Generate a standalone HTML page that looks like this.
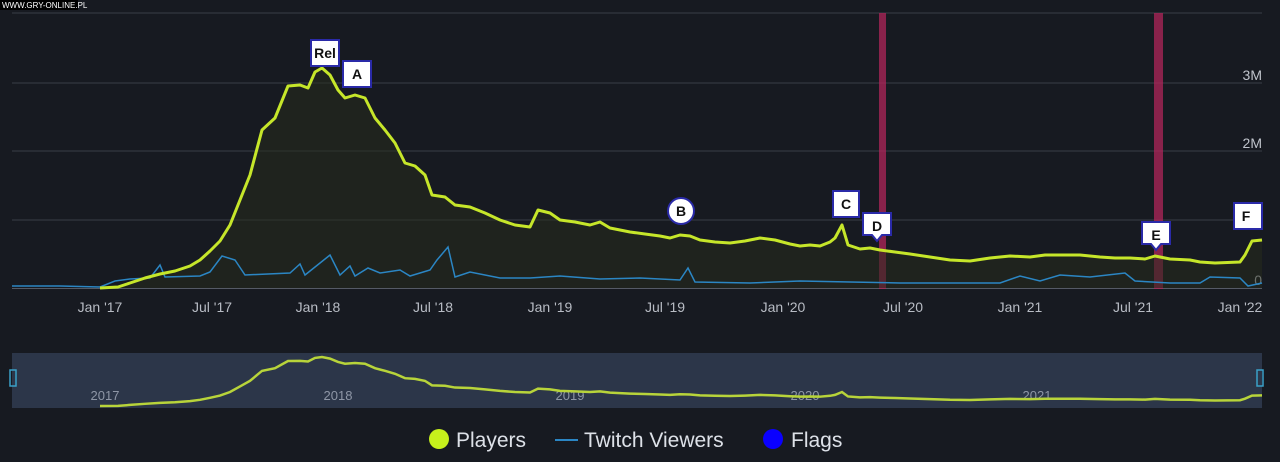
<!DOCTYPE html>
<html><head><style>
html,body{margin:0;padding:0;background:#171a21;width:1280px;height:462px;overflow:hidden;font-family:"Liberation Sans",sans-serif}
</style></head><body>
<svg width="1280" height="462" xmlns="http://www.w3.org/2000/svg" font-family="Liberation Sans, sans-serif">
<rect width="1280" height="462" fill="#171a21"/>
<defs>
<path id="pl" vector-effect="non-scaling-stroke" d="M100,288 L118,287 L130,283 L145,278 L160,274 L175,271 L190,266 L200,260 L210,251 L220,241 L230,225 L240,200 L250,175 L262,130 L275,118 L288,86 L300,85 L308,88 L315,72 L322,68 L330,75 L338,90 L345,98 L355,95 L365,98 L375,118 L385,130 L395,143 L405,163 L415,166 L425,175 L432,195 L445,197 L455,205 L470,207 L485,213 L500,220 L515,225 L530,227 L538,210 L550,213 L560,220 L575,222 L590,225 L600,222 L610,228 L620,230 L630,232 L645,234 L660,236 L670,238 L680,235 L690,236 L700,240 L715,242 L730,243 L745,241 L760,238 L775,240 L790,244 L800,246 L810,245 L820,246 L830,242 L835,238 L842,225 L848,245 L860,249 L870,248 L880,250 L895,252 L910,254 L930,257 L950,260 L970,261 L990,258 L1010,256 L1030,257 L1045,255 L1060,255 L1080,255 L1100,257 L1115,258 L1130,258 L1145,259 L1155,256 L1170,259 L1190,260 L1200,262 L1215,263 L1240,262 L1245,255 L1252,241 L1262,240"/>
</defs>
<g stroke="#3a3e48" stroke-width="1">
<line x1="12" y1="13" x2="1262" y2="13"/><line x1="12" y1="83" x2="1262" y2="83"/>
<line x1="12" y1="151" x2="1262" y2="151"/><line x1="12" y1="220" x2="1262" y2="220"/>
</g>
<line x1="12" y1="288.5" x2="1262" y2="288.5" stroke="#555a66"/>
<g fill="#c0c4cc" font-size="14" text-anchor="end">
<text x="1262" y="80">3M</text><text x="1262" y="148">2M</text><text x="1262" y="217">1M</text><text x="1262" y="285">0</text>
</g>
<rect x="879" y="13" width="7" height="276" fill="#b0265a" opacity="0.75"/>
<rect x="1154" y="13" width="9" height="276" fill="#b0265a" opacity="0.75"/>
<path d="M100,288 L118,287 L130,283 L145,278 L160,274 L175,271 L190,266 L200,260 L210,251 L220,241 L230,225 L240,200 L250,175 L262,130 L275,118 L288,86 L300,85 L308,88 L315,72 L322,68 L330,75 L338,90 L345,98 L355,95 L365,98 L375,118 L385,130 L395,143 L405,163 L415,166 L425,175 L432,195 L445,197 L455,205 L470,207 L485,213 L500,220 L515,225 L530,227 L538,210 L550,213 L560,220 L575,222 L590,225 L600,222 L610,228 L620,230 L630,232 L645,234 L660,236 L670,238 L680,235 L690,236 L700,240 L715,242 L730,243 L745,241 L760,238 L775,240 L790,244 L800,246 L810,245 L820,246 L830,242 L835,238 L842,225 L848,245 L860,249 L870,248 L880,250 L895,252 L910,254 L930,257 L950,260 L970,261 L990,258 L1010,256 L1030,257 L1045,255 L1060,255 L1080,255 L1100,257 L1115,258 L1130,258 L1145,259 L1155,256 L1170,259 L1190,260 L1200,262 L1215,263 L1240,262 L1245,255 L1252,241 L1262,240 L1262,288 Z" fill="#262b1e" opacity="0.55"/>
<polyline fill="none" stroke="#2b86c4" stroke-width="1.5" points="12,286 60,286 100,287 115,281 130,279 150,278 160,265 165,277 200,276 210,272 222,256 235,260 245,275 290,273 300,264 305,275 330,255 340,275 350,266 355,276 368,268 380,273 400,270 410,276 430,270 437,260 448,247 455,277 470,272 500,278 530,278 560,276 600,279 640,278 680,280 688,268 695,282 750,283 800,281 850,282 900,283 950,283 1000,283 1020,276 1040,281 1060,275 1090,277 1125,273 1135,281 1170,283 1200,283 1210,277 1240,278 1248,286 1262,283"/>
<use href="#pl" fill="none" stroke="#c6e62a" stroke-width="3" stroke-linejoin="round"/>
<g fill="#b8bcc4" font-size="14" text-anchor="middle">
<text x="100" y="312">Jan '17</text><text x="212" y="312">Jul '17</text><text x="318" y="312">Jan '18</text>
<text x="433" y="312">Jul '18</text><text x="550" y="312">Jan '19</text><text x="665" y="312">Jul '19</text>
<text x="783" y="312">Jan '20</text><text x="903" y="312">Jul '20</text><text x="1020" y="312">Jan '21</text>
<text x="1133" y="312">Jul '21</text><text x="1240" y="312">Jan '22</text>
</g>
<g font-size="14" font-weight="bold" fill="#111" text-anchor="middle">
<rect x="311" y="40" width="28" height="26" fill="#fff" stroke="#2a2aa8" stroke-width="2"/><text x="325" y="58">Rel</text>
<rect x="343" y="61" width="28" height="26" fill="#fff" stroke="#2a2aa8" stroke-width="2"/><text x="357" y="79">A</text>
<circle cx="681" cy="211" r="13" fill="#fff" stroke="#2a2aa8" stroke-width="2"/><text x="681" y="216">B</text>
<rect x="833" y="191" width="26" height="26" fill="#fff" stroke="#2a2aa8" stroke-width="2"/><text x="846" y="209">C</text>
<path d="M863,213 h28 v22 h-9 l-5,6 l-5,-6 h-9 z" fill="#fff" stroke="#2a2aa8" stroke-width="2"/><text x="877" y="231">D</text>
<path d="M1142,222 h28 v22 h-9 l-5,6 l-5,-6 h-9 z" fill="#fff" stroke="#2a2aa8" stroke-width="2"/><text x="1156" y="240">E</text>
<rect x="1234" y="203" width="28" height="26" fill="#fff" stroke="#2a2aa8" stroke-width="2"/><text x="1246" y="221">F</text>
</g>
<rect x="12" y="353" width="1250" height="55" fill="#2c3649"/>
<g fill="#8e96a6" font-size="13" text-anchor="middle">
<text x="105" y="400">2017</text><text x="338" y="400">2018</text><text x="570" y="400">2019</text><text x="805" y="400">2020</text><text x="1037" y="400">2021</text>
</g>
<g transform="translate(0,341.9) scale(1,0.2227)">
<use href="#pl" fill="none" stroke="#b8d43a" stroke-width="2.5"/>
</g>
<rect x="10" y="370" width="6" height="16" fill="none" stroke="#3aa0c8" stroke-width="1.5"/>
<rect x="1257" y="370" width="6" height="16" fill="none" stroke="#3aa0c8" stroke-width="1.5"/>
<circle cx="439" cy="439" r="10" fill="#c6f01c"/>
<text x="456" y="447" fill="#dde1e8" font-size="21">Players</text>
<line x1="555" y1="440" x2="578" y2="440" stroke="#2b86c4" stroke-width="2"/>
<text x="584" y="447" fill="#dde1e8" font-size="21">Twitch Viewers</text>
<circle cx="773" cy="439" r="10" fill="#0a00ff"/>
<text x="791" y="447" fill="#dde1e8" font-size="21">Flags</text>
<rect x="0" y="0" width="78" height="10" fill="#000"/>
<text x="2" y="8" fill="#fff" font-size="8">WWW.GRY-ONLINE.PL</text>
</svg>
</body></html>
